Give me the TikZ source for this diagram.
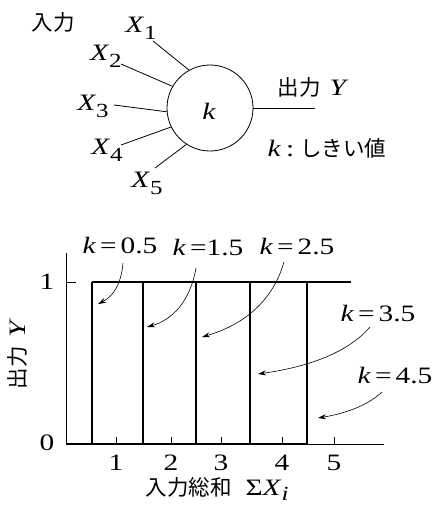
\documentclass[tikz,border=0pt]{standalone}
\usepackage{fontspec}
\setmainfont[FakeStretch=1.25]{Liberation Serif}
\newfontfamily\jp{Noto Sans CJK JP}
\usetikzlibrary{arrows.meta}
\newcommand\myvar[1]{\textit{#1}}
\newcommand\mysub[1]{\raisebox{-0.3em}{\fontsize{20}{20}\selectfont #1}}
\newcommand\jtext[1]{{\jp\fontsize{21.5}{24}\selectfont #1}}
\begin{document}
\begin{tikzpicture}[x=1pt,y=-1pt,
  lbl/.style={inner sep=0pt, font=\fontsize{23.5}{26}\selectfont},
  jlbl/.style={inner sep=0pt, font=\jp\fontsize{21.5}{24}\selectfont},
  thinline/.style={line width=0.8pt},
  thickline/.style={line width=1.9pt},
  pointer/.style={line width=0.6pt, -{Stealth[length=8pt,width=5pt]}}]
\useasboundingbox (0,0) rectangle (436,507);

% ---------- neuron ----------
\node[circle, draw, thinline, minimum size=86pt, inner sep=0pt] (c) at (210,108) {};
\node[lbl] (kc) at (209,111) {\myvar{k}};
\node[jlbl] (in) at (53,22) {入力};
\node[lbl] (x1) at (141,28) {\myvar{X}\mysub{1}};
\node[lbl] (x2) at (106,56) {\myvar{X}\mysub{2}};
\node[lbl] (x3) at (93,106) {\myvar{X}\mysub{3}};
\node[lbl] (x4) at (107,150) {\myvar{X}\mysub{4}};
\node[lbl] (x5) at (147,183) {\myvar{X}\mysub{5}};
\node[lbl] (out) at (313,87) {\jtext{出力}\hspace{9pt}\myvar{Y}};
\node[lbl] (thr) at (327,148) {\myvar{k}\hspace{5pt}:\hspace{6pt}\jtext{しきい値}};

\coordinate (e1) at (153,41);
\coordinate (e2) at (121,64);
\coordinate (e3) at (114,105);
\coordinate (e4) at (121,145);
\coordinate (e5) at (155,168);
\coordinate (eo) at (315,108);
\draw[thinline] (e1) -- (c.119);
\draw[thinline] (e2) -- (c.150);
\draw[thinline] (e3) -- (c.185);
\draw[thinline] (e4) -- (c.206);
\draw[thinline] (e5) -- (c.237);
\draw[thinline] (c.0) -- (eo);

% ---------- graph ----------
\coordinate (o) at (66,444);
\coordinate (ytop) at (66,253);
\coordinate (xend) at (384,444);
\draw[thinline] (ytop) -- (o) -- (xend);
\draw[thinline] (66,282) -- (76,282);
\foreach \x in {116,171,221,282,334} \draw[thinline] (\x,444) -- (\x,437);

\draw[thickline] (92,282) -- (351,282);
\foreach \x in {92,143,196,250,307} \draw[thickline] (\x,282) -- (\x,444);
\draw[thickline] (66,444) -- (307,444);

\node[lbl] (one) at (47,282) {1};
\node[lbl] (zero) at (47,443) {0};
\node[lbl] (t1) at (116,463) {1};
\node[lbl] (t2) at (171,463) {2};
\node[lbl] (t3) at (221,463) {3};
\node[lbl] (t4) at (282,463) {4};
\node[lbl] (t5) at (334,463) {5};

\node[lbl, rotate=90] (ylab) at (17,354) {\jtext{出力}\hspace{9pt}\myvar{Y}};
\node[lbl] (xlab) at (217,489) {\jtext{入力総和}\hspace{14pt}Σ\myvar{X}\raisebox{-0.2em}{\fontsize{20}{20}\selectfont\myvar{i}}};

\node[lbl] (k1) at (120,246) {\myvar{k}\,=\,0.5};
\node[lbl] (k2) at (208,248) {\myvar{k}\,=1.5};
\node[lbl] (k3) at (297,247) {\myvar{k}\,=\,2.5};
\node[lbl] (k4) at (378,314) {\myvar{k}\,=\,3.5};
\node[lbl] (k5) at (395,376) {\myvar{k}\,=\,4.5};

\coordinate (a1) at (123,263); \coordinate (b1) at (98,304);
\coordinate (a2) at (196,268); \coordinate (b2) at (147,327);
\coordinate (a3) at (284,262); \coordinate (b3) at (202,337);
\coordinate (a4) at (370,327); \coordinate (b4) at (258,374);
\coordinate (a5) at (382,392); \coordinate (b5) at (318,418);
\draw[pointer] (a1) .. controls (121,286) and (112,297) .. (b1);
\draw[pointer] (a2) .. controls (190,302) and (172,320) .. (b2);
\draw[pointer] (a3) .. controls (272,304) and (240,326) .. (b3);
\draw[pointer] (a4) .. controls (345,356) and (300,368) .. (b4);
\draw[pointer] (a5) .. controls (366,407) and (342,414) .. (b5);
\end{tikzpicture}
\end{document}
